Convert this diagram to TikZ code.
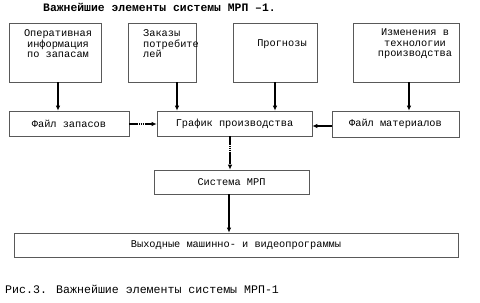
\documentclass[tikz,border=0pt]{standalone}
\usepackage{fontspec}
\setmainfont{Liberation Mono}
\usetikzlibrary{arrows.meta}
\begin{document}
\begin{tikzpicture}[x=1pt,y=-1pt,
  box/.style={draw=black!65,line width=0.6pt,inner sep=0pt},
  txt/.style={inner sep=0pt,font=\fontsize{10.3}{10.6}\selectfont},
  conn/.style={line width=1.1pt,-{Latex[length=5pt,width=4.5pt]}},
  dconn/.style={conn,dash pattern=on 1.5pt off 0.4pt}]
\useasboundingbox (0,0) rectangle (480,303);
\fill[white] (0,0) rectangle (480,303);
% title
\node[inner sep=0pt,anchor=west,font=\fontsize{11.4}{12}\selectfont\bfseries] (title) at (43,7) {Важнейшие элементы системы МРП –1.};
% top boxes
\node[box,minimum width=92pt,minimum height=59pt] (b1) at (55,52.5) {};
\node[box,minimum width=68pt,minimum height=59pt] (b2) at (162,52.5) {};
\node[box,minimum width=84pt,minimum height=59pt] (b3) at (275,52.5) {};
\node[box,minimum width=106pt,minimum height=59pt] (b4) at (406,52.5) {};
\node[txt,align=center] (t1) at (58,44) {Оперативная\\информация\\по запасам};
\node[txt,align=left,anchor=west] (t2) at (143,44) {Заказы\\потребите\\лей};
\node[txt] (t3) at (282,44) {Прогнозы};
\node[txt,align=center] (t4) at (415,44) {Изменения в\\технологии\\производства};
% second row
\node[box,minimum width=120pt,minimum height=25pt,font=\fontsize{10.3}{10.6}\selectfont] (f1) at (69,123.5) {Файл запасов};
\node[box,minimum width=155pt,minimum height=25pt,font=\fontsize{10.3}{10.6}\selectfont] (g) at (234.5,123.5) {График производства};
\node[box,minimum width=127pt,minimum height=26pt,font=\fontsize{10.3}{10.6}\selectfont] (f2) at (395.5,124) {Файл материалов};
% system
\node[box,minimum width=155pt,minimum height=24pt,font=\fontsize{10.3}{10.6}\selectfont] (s) at (231.5,182) {Система МРП};
% output
\node[box,minimum width=444pt,minimum height=24pt,font=\fontsize{10.3}{10.6}\selectfont] (o) at (236,245) {Выходные машинно- и видеопрограммы};
% caption
\node[inner sep=0pt,anchor=west,font=\fontsize{11.6}{12}\selectfont] (cap) at (5,289) {Рис.3. Важнейшие элементы системы МРП-1};
% connectors
\draw[conn] (b1.south -| 58,0) -- (f1.north -| 58,0);
\draw[conn] (b2.south -| 177,0) -- (g.north -| 177,0);
\draw[conn] (b3.south -| 275,0) -- (g.north -| 275,0);
\draw[conn] (b4.south -| 409,0) -- (f2.north -| 409,0);
\draw[dconn] (f1.east |- 0,124) -- (g.west |- 0,124);
\draw[conn] (f2.west |- 0,126) -- (g.east |- 0,126);
\draw[dconn] (g.south -| 230,0) -- (s.north -| 230,0);
\draw[conn] (s.south -| 229,0) -- (o.north -| 229,0);
\end{tikzpicture}
\end{document}
